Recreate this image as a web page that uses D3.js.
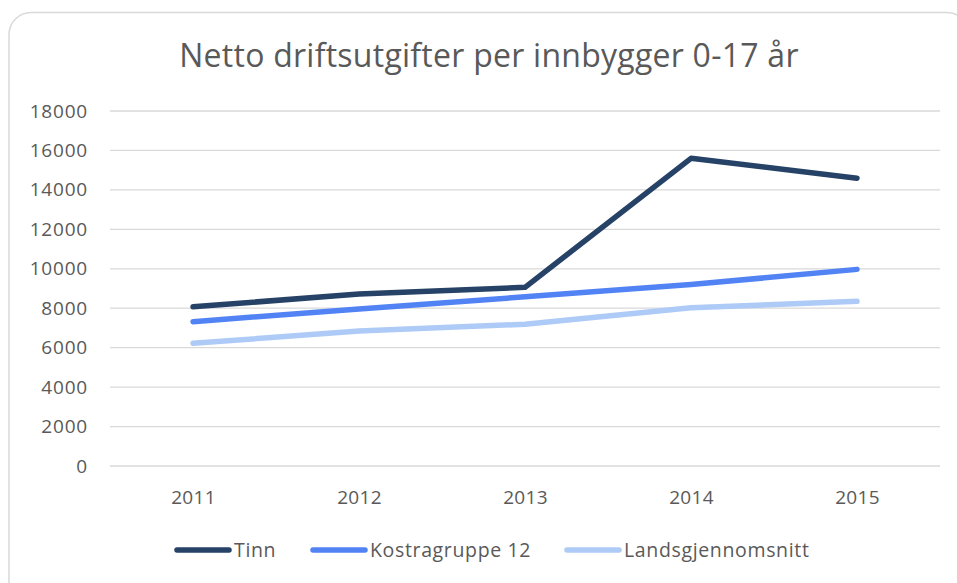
<!DOCTYPE html>
<html>
<head>
<meta charset="utf-8">
<script src="https://cdn.jsdelivr.net/npm/d3@7"></script>
<style>
  body { margin: 0; background: #fff; }
  text { font-family: "Open Sans", "Noto Sans", sans-serif; fill: #595959; }
</style>
</head>
<body>
<div id="chart"></div>
<script>
// data
const years = ["2011", "2012", "2013", "2014", "2015"];
const tinn = [8070, 8720, 9060, 15600, 14590];
const kostra = [7320, 7960, 8580, 9200, 9970];
const lands = [6220, 6840, 7190, 8020, 8350];
const seriesNames = ["Tinn", "Kostragruppe 12", "Landsgjennomsnitt"];
const seriesColors = ["#264266", "#5283f5", "#aecbf7"];
const yTicks = [0, 2000, 4000, 6000, 8000, 10000, 12000, 14000, 16000, 18000];

const width = 957, height = 583;
const margin = { top: 111, right: 17, bottom: 117, left: 110 };

const svg = d3.select("#chart").append("svg")
    .attr("width", width)
    .attr("height", height);

// chart frame (runs off the right and bottom edge)
svg.append("rect")
    .attr("x", 9).attr("y", 12.5)
    .attr("width", 960).attr("height", 620)
    .attr("rx", 22)
    .attr("fill", "#fff")
    .attr("stroke", "#d9d9d9")
    .attr("stroke-width", 1.5);

svg.append("text")
    .attr("x", 489).attr("y", 67)
    .attr("text-anchor", "middle")
    .style("font-size", "32px")
    .style("letter-spacing", "0.25px")
    .text("Netto driftsutgifter per innbygger 0-17 år");

let x = d3.scalePoint()
    .domain(years)
    .range([margin.left, width - margin.right])
    .padding(0.5);

let y = d3.scaleLinear()
    .domain([0, 18000])
    .range([height - margin.bottom, margin.top]);

// gridlines
svg.append("g")
    .selectAll("line")
    .data(yTicks)
    .join("line")
    .attr("x1", margin.left)
    .attr("x2", width - margin.right)
    .attr("y1", d => y(d))
    .attr("y2", d => y(d))
    .attr("stroke", "#d9d9d9")
    .attr("stroke-width", 1.3);

// y labels
let yAxis = svg.append("g")
    .attr("transform", "translate(" + (margin.left - 22) + ",0)")
    .call(d3.axisLeft(y).tickValues(yTicks).tickFormat(d3.format("d")).tickSize(0).tickPadding(0));
yAxis.select(".domain").remove();
yAxis.selectAll("text")
    .style("font-size", "19px")
    .style("letter-spacing", "0.8px")
    .attr("fill", "#595959");

// x labels
let xAxis = svg.append("g")
    .attr("transform", "translate(0," + (height - margin.bottom) + ")")
    .call(d3.axisBottom(x).tickSize(0).tickPadding(25));
xAxis.select(".domain").remove();
xAxis.selectAll("text")
    .style("font-size", "19px")
    .style("letter-spacing", "0.3px")
    .attr("fill", "#595959");

const allSeries = [tinn, kostra, lands];

let line = d3.line()
    .x((d, i) => x(years[i]))
    .y(d => y(d));

// draw back to front so Tinn sits on top
for (let s = allSeries.length - 1; s >= 0; s--) {
    svg.append("path")
        .datum(allSeries[s])
        .attr("d", line)
        .attr("fill", "none")
        .attr("stroke", seriesColors[s])
        .attr("stroke-width", 5.5)
        .attr("stroke-linecap", "round")
        .attr("stroke-linejoin", "round");
}

// legend
const legendX = [177, 313, 567];
let legend = svg.append("g").attr("transform", "translate(0,550)");
seriesNames.forEach(function(name, i) {
    legend.append("line")
        .attr("x1", legendX[i]).attr("x2", legendX[i] + 52)
        .attr("y1", 0).attr("y2", 0)
        .attr("stroke", seriesColors[i])
        .attr("stroke-width", 5.5)
        .attr("stroke-linecap", "round");
    legend.append("text")
        .attr("x", legendX[i] + 57)
        .attr("y", 7)
        .style("font-size", "19.5px")
        .style("letter-spacing", "0.65px")
        .text(name);
});
</script>
</body>
</html>
